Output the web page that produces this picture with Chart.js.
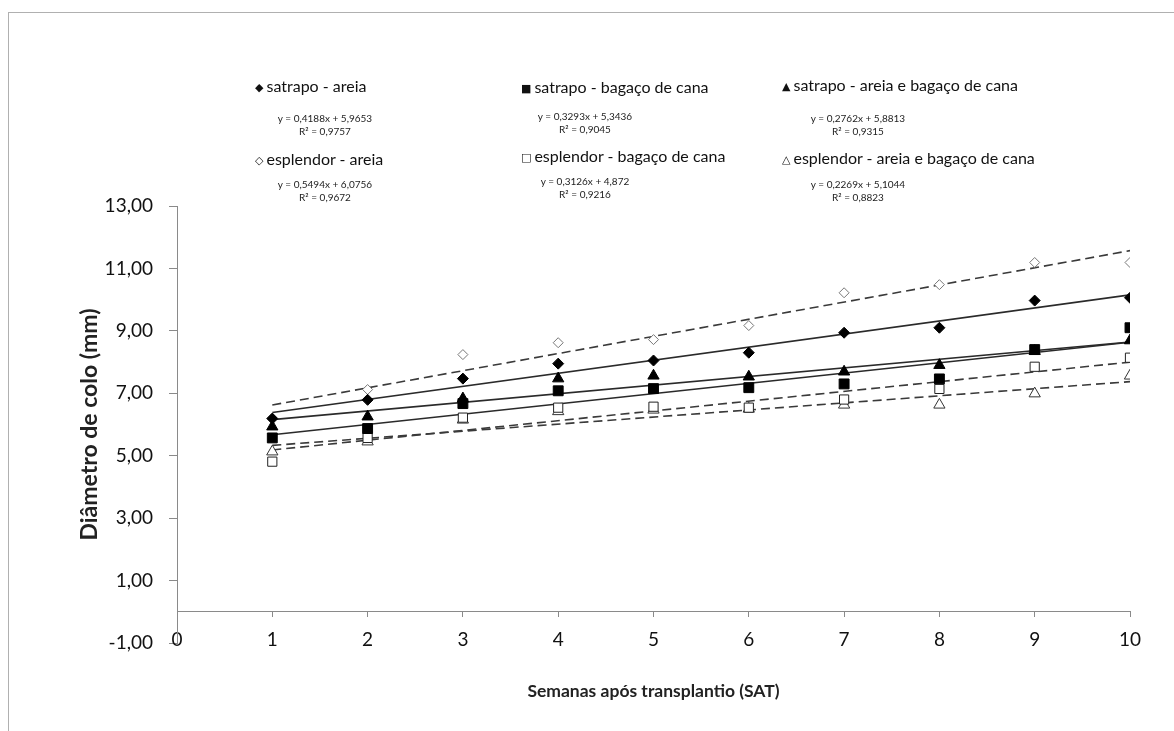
<!DOCTYPE html>
<html lang="pt">
<head>
  <meta charset="UTF-8" />
  <title>Diâmetro de colo</title>
  <script src="https://cdn.jsdelivr.net/npm/chart.js"></script>
  <style>
    html, body { margin: 0; padding: 0; background: #fff; overflow: hidden; }
    #wrap { position: relative; width: 1174px; height: 731px; }
    #frame { position: absolute; left: 8px; top: 12px; width: 1200px; height: 800px; border: 1px solid #b0b0b0; }
    canvas { position: absolute; left: 0; top: 0; }
    .leg { position: absolute; font-family: Lato, sans-serif; font-size: 16px; color: #111; white-space: nowrap; transform: translateY(-50%); }
    .leg .mk { font-family: "DejaVu Sans", sans-serif; font-size: 11px; margin-right: 3px; vertical-align: 1px; }
    .eq { position: absolute; font-family: Lato, sans-serif; font-size: 10px; color: #222; white-space: nowrap; transform: translate(-50%, -50%); text-align: center; line-height: 13px; }
  </style>
</head>
<body>
  <div id="wrap">
    <div id="frame"></div>
    <canvas id="chart" width="1174" height="731"></canvas>
    <div id="legend"></div>
  </div>

  <script>
    // dados
    const weeks = [1, 2, 3, 4, 5, 6, 7, 8, 9, 10];
    const seriesNames = [
      'satrapo - areia', 'satrapo - bagaço de cana', 'satrapo - areia e bagaço de cana',
      'esplendor - areia', 'esplendor - bagaço de cana', 'esplendor - areia e bagaço de cana'
    ];
    const satrapoAreia = [6.19, 6.79, 7.47, 7.95, 8.05, 8.30, 8.94, 9.10, 9.97, 10.06];
    const satrapoBagaco = [5.57, 5.87, 6.67, 7.08, 7.15, 7.18, 7.30, 7.46, 8.40, 9.10];
    const satrapoAreiaBagaco = [5.93, 6.25, 6.83, 7.47, 7.56, 7.53, 7.69, 7.90, 8.35, 8.69];
    const esplendorAreia = [6.20, 7.12, 8.24, 8.62, 8.72, 9.17, 10.22, 10.48, 11.19, 11.19];
    const esplendorBagaco = [4.81, 5.57, 6.22, 6.54, 6.57, 6.54, 6.80, 7.14, 7.85, 8.14];
    const esplendorAreiaBagaco = [5.13, 5.45, 6.15, 6.42, 6.47, 6.50, 6.63, 6.63, 6.99, 7.56];

    // linhas de tendência (equações do gráfico)
    const trendSlopes = [0.4188, 0.3293, 0.2762, 0.5494, 0.3126, 0.2269];
    const trendIntercepts = [5.9653, 5.3436, 5.8813, 6.0756, 4.872, 5.1044];
    const trendEquations = [
      'y = 0,4188x + 5,9653', 'y = 0,3293x + 5,3436', 'y = 0,2762x + 5,8813',
      'y = 0,5494x + 6,0756', 'y = 0,3126x + 4,872', 'y = 0,2269x + 5,1044'
    ];
    const trendR2 = ['R² = 0,9757', 'R² = 0,9045', 'R² = 0,9315', 'R² = 0,9672', 'R² = 0,9216', 'R² = 0,8823'];

    const xTicks = [0, 1, 2, 3, 4, 5, 6, 7, 8, 9, 10];
    const yTicks = [-1, 1, 3, 5, 7, 9, 11, 13];

    const allValues = [satrapoAreia, satrapoBagaco, satrapoAreiaBagaco, esplendorAreia, esplendorBagaco, esplendorAreiaBagaco];

    // estilos dos marcadores
    const markers = [
      { style: 'rectRot', r: 5.5, bg: '#000', border: '#000' },
      { style: 'rect', r: 7, bg: '#000', border: '#000' },
      { style: 'triangle', r: 6.5, bg: '#000', border: '#000' },
      { style: 'rectRot', r: 5, bg: '#fff', border: '#777' },
      { style: 'rect', r: 6.5, bg: '#fff', border: '#222' },
      { style: 'triangle', r: 6.5, bg: '#fff', border: '#333' }
    ];
    const legendGlyphs = ['◆', '■', '▲', '◇', '□', '△'];

    // legenda em HTML (posição do marcador e da primeira linha da equação)
    const legendPos = [
      { x: 255, y: 85, ex: 325, ey: 118 },
      { x: 521, y: 86, ex: 585, ey: 116 },
      { x: 782, y: 84, ex: 858, ey: 118 },
      { x: 255, y: 158, ex: 325, ey: 184 },
      { x: 521, y: 155, ex: 585, ey: 181 },
      { x: 782, y: 157, ex: 858, ey: 184 }
    ];
    const legendEl = document.getElementById('legend');
    seriesNames.forEach((name, i) => {
      const p = legendPos[i];
      const d = document.createElement('div');
      d.className = 'leg';
      d.style.left = p.x + 'px';
      d.style.top = p.y + 'px';
      d.innerHTML = '<span class="mk">' + legendGlyphs[i] + '</span>' + name;
      legendEl.appendChild(d);
      const e = document.createElement('div');
      e.className = 'eq';
      e.style.left = p.ex + 'px';
      e.style.top = (p.ey + 6.5) + 'px';
      e.innerHTML = trendEquations[i] + '<br>' + trendR2[i];
      legendEl.appendChild(e);
    });

    // datasets: pontos primeiro (desenhados por cima)
    const datasets = [];
    allValues.forEach((vals, i) => {
      const m = markers[i];
      datasets.push({
        label: seriesNames[i],
        type: 'scatter',
        data: weeks.map((w, k) => ({ x: w, y: vals[k] })),
        pointStyle: m.style,
        pointRadius: m.r,
        pointBackgroundColor: m.bg,
        pointBorderColor: m.border,
        pointBorderWidth: 1,
        showLine: false
      });
    });
    allValues.forEach((vals, i) => {
      const x0 = weeks[0], x1 = weeks[weeks.length - 1];
      datasets.push({
        label: 'tendência ' + seriesNames[i],
        type: 'line',
        data: [
          { x: x0, y: trendSlopes[i] * x0 + trendIntercepts[i] },
          { x: x1, y: trendSlopes[i] * x1 + trendIntercepts[i] }
        ],
        borderColor: i < 3 ? '#2a2a2a' : '#3a3a3a',
        borderWidth: 1.6,
        borderDash: i < 3 ? [] : [9, 5],
        pointRadius: 0,
        fill: false
      });
    });

    const ctx = document.getElementById('chart').getContext('2d');
    new Chart(ctx, {
      type: 'scatter',
      data: { datasets: datasets },
      options: {
        responsive: false,
        animation: false,
        layout: { padding: { left: 0, right: 44, top: 206, bottom: 88 } },
        plugins: { legend: { display: false }, tooltip: { enabled: false } },
        scales: {
          x: {
            type: 'linear',
            position: { y: 0 },
            min: 0,
            max: 10,
            afterFit: s => { s.height = 110; },
            afterBuildTicks: s => { s.ticks = xTicks.map(v => ({ value: v })); },
            grid: { display: true, drawOnChartArea: false, drawTicks: true, tickLength: 5, color: '#8a8a8a' },
            border: { display: true, color: '#8a8a8a' },
            ticks: {
              padding: 12,
              color: '#111',
              font: { family: 'Lato', size: 19 },
              callback: v => String(v)
            },
            title: {
              display: true,
              text: 'Semanas após transplantio (SAT)',
              color: '#222',
              font: { family: 'Lato', size: 17.5, weight: 'bold' },
              padding: { top: 4, bottom: 20 }
            }
          },
          y: {
            min: -1,
            max: 13,
            afterFit: s => { s.width = 177; },
            afterBuildTicks: s => { s.ticks = yTicks.map(v => ({ value: v })); },
            grid: { drawOnChartArea: false, drawTicks: true, tickLength: 8, color: '#8a8a8a' },
            border: { display: true, color: '#8a8a8a' },
            ticks: {
              padding: 16,
              color: '#111',
              font: { family: 'Lato', size: 19 },
              callback: v => v.toFixed(2).replace('.', ',')
            },
            title: {
              display: true,
              text: 'Diâmetro de colo (mm)',
              color: '#222',
              font: { family: 'Lato', size: 23, weight: 'bold' },
              padding: { top: 76, bottom: 0 }
            }
          }
        }
      }
    });
  </script>
</body>
</html>
